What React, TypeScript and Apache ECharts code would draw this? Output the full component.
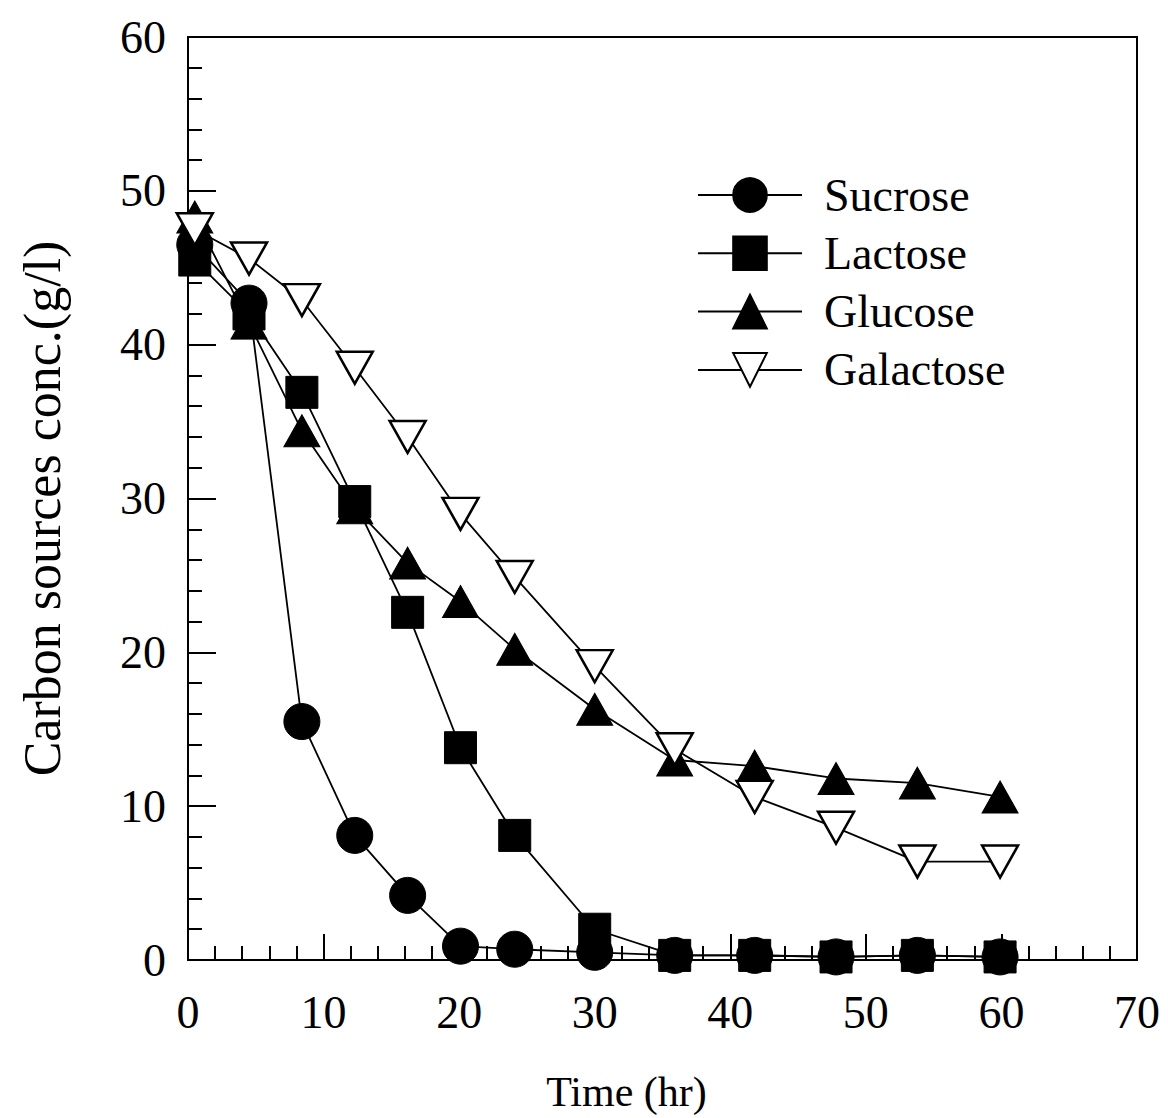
import React, { useEffect, useRef } from "react";
import * as echarts from "echarts";

const times = [0.5, 4.5, 8.4, 12.3, 16.2, 20.1, 24.1, 30, 35.9, 41.8, 47.8, 53.8, 59.9];
const sucrose = [46.5, 42.7, 15.5, 8.1, 4.2, 0.9, 0.7, 0.5, 0.3, 0.3, 0.2, 0.3, 0.2];
const lactose = [45.5, 42.0, 36.9, 29.8, 22.6, 13.8, 8.1, 2.0, 0.3, 0.3, 0.2, 0.3, 0.2];
const glucose = [48.3, 41.4, 34.4, 29.4, 25.8, 23.3, 20.2, 16.3, 13.0, 12.6, 11.8, 11.5, 10.6];
const galactose = [47.5, 45.6, 42.9, 38.5, 34.0, 29.0, 24.9, 19.1, 13.7, 10.6, 8.6, 6.4, 6.4];
const seriesNames = ["Sucrose", "Lactose", "Glucose", "Galactose"];

const FONT = "'Liberation Serif', 'Times New Roman', serif";

function pairs(ys: number[]) {
  return times.map((t, i) => [t, ys[i]]);
}

export default function App() {
  const ref = useRef<HTMLDivElement>(null);
  useEffect(() => {
    if (!ref.current) return;
    const chart = echarts.init(ref.current, null, { renderer: "svg" });
    const lineStyle = { color: "#000", width: 1.8 };
    const option = {
      animation: false,
      backgroundColor: "#fff",
      grid: {
        left: 188,
        right: 31,
        top: 37,
        bottom: 156,
        show: true,
        borderColor: "#000",
        borderWidth: 2,
        backgroundColor: "transparent",
      },
      legend: {
        orient: "vertical",
        left: 692,
        top: 167,
        itemWidth: 104,
        itemHeight: 42,
        itemGap: 12.3,
        data: seriesNames,
        textStyle: {
          fontFamily: FONT,
          fontSize: 46,
          color: "#000",
          padding: [0, 0, 0, 17],
        },
      },
      xAxis: {
        type: "value",
        min: 0,
        max: 70,
        interval: 10,
        name: "Time (hr)",
        nameLocation: "middle",
        nameGap: 111,
        nameTextStyle: {
          fontFamily: FONT,
          fontSize: 42,
          color: "#000",
          padding: [0, 72, 0, 0],
        },
        axisLine: { lineStyle: { color: "#000", width: 2 } },
        axisTick: { inside: true, length: 26, lineStyle: { color: "#000", width: 2 } },
        minorTick: { show: true, splitNumber: 5, length: 14, lineStyle: { color: "#000", width: 2 } },
        splitLine: { show: false },
        axisLabel: { fontFamily: FONT, fontSize: 46, color: "#000", margin: 29 },
      },
      yAxis: {
        type: "value",
        min: 0,
        max: 60,
        interval: 10,
        name: "Carbon sources conc.(g/l)",
        nameLocation: "middle",
        nameRotate: 90,
        nameGap: 120,
        nameTextStyle: { fontFamily: FONT, fontSize: 52, color: "#000", padding: [0, 20, 0, 0] },
        axisLine: { lineStyle: { color: "#000", width: 2 } },
        axisTick: { inside: true, length: 28, lineStyle: { color: "#000", width: 2 } },
        minorTick: { show: true, splitNumber: 5, length: 14, lineStyle: { color: "#000", width: 2 } },
        splitLine: { show: false },
        axisLabel: { fontFamily: FONT, fontSize: 46, color: "#000", margin: 22 },
      },
      series: [
        {
          name: "Sucrose",
          type: "line",
          data: pairs(sucrose),
          symbol: "circle",
          symbolSize: 36,
          lineStyle,
          itemStyle: { color: "#000", borderColor: "#000", borderWidth: 1 },
        },
        {
          name: "Lactose",
          type: "line",
          data: pairs(lactose),
          symbol: "rect",
          symbolSize: 32,
          lineStyle,
          itemStyle: { color: "#000", borderColor: "#000", borderWidth: 1 },
        },
        {
          name: "Glucose",
          type: "line",
          data: pairs(glucose),
          symbol: "triangle",
          symbolSize: [36, 32],
          lineStyle,
          itemStyle: { color: "#000", borderColor: "#000", borderWidth: 1 },
        },
        {
          name: "Galactose",
          type: "line",
          data: pairs(galactose),
          symbol: "triangle",
          symbolRotate: 180,
          symbolSize: [36, 32],
          lineStyle,
          itemStyle: { color: "#fff", borderColor: "#000", borderWidth: 2.5 },
        },
      ],
    };
    chart.setOption(option as any);
    return () => chart.dispose();
  }, []);
  return (
    <div
      ref={ref}
      style={{ position: "fixed", left: 0, top: 0, width: 1168, height: 1118, background: "#fff" }}
    />
  );
}
